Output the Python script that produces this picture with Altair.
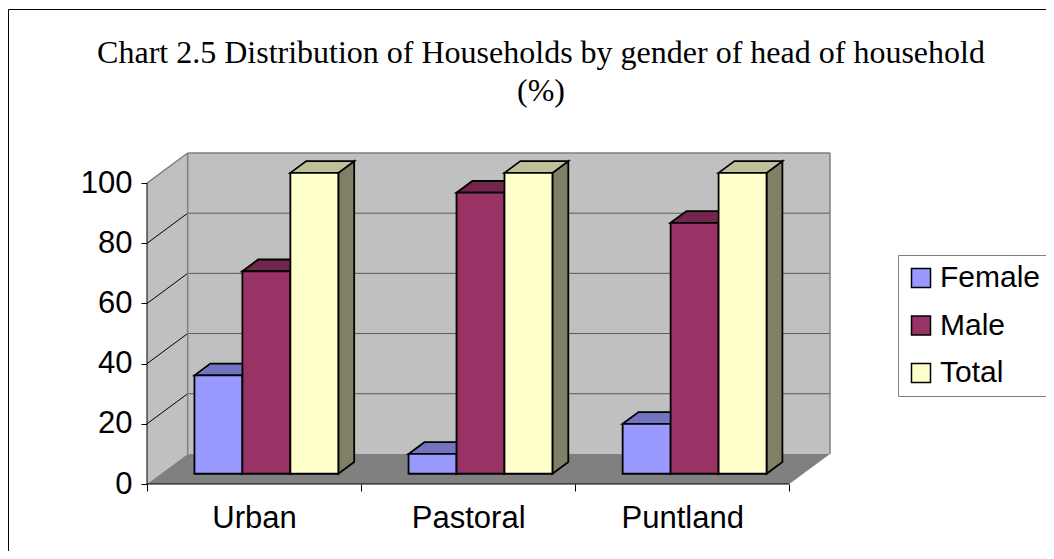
import json
import altair as alt
import pandas as pd

# ---------------- data ----------------
categories = ["Urban", "Pastoral", "Puntland"]
series_names = ["Female", "Male", "Total"]
female = [32.7, 6.6, 16.6]
male = [67.3, 93.4, 83.4]
total = [100, 100, 100]
y_ticks = [0, 20, 40, 60, 80, 100]
title_lines = ["Chart 2.5 Distribution of Households by gender of head of household", "(%)"]

# ---------------- styles ----------------
front_colors = ["#9999FF", "#993366", "#FFFFCC"]
top_colors = ["#7373BF", "#73264D", "#BFBF99"]
side_colors = ["#4D4D80", "#4D1A33", "#808066"]

# ---------------- layout (3-D look) ----------------
PLOT_W, PLOT_H = 683, 331
N = len(categories)
DX, DY = 0.19, 10.0            # depth of the floor, in data units
X_MAX = N + DX
Y_TOP = max(y_ticks)
Y_MAX = Y_TOP + DY
F_FRONT, F_DEPTH = 0.34, 0.39   # bar front position / bar depth as fraction of floor depth
PAD, BAR_W = 0.157, 0.224

values = {"Female": female, "Male": male, "Total": total}

front_rows, top_rows, side_rows = [], [], []
for i, cat in enumerate(categories):
    for j, s in enumerate(series_names):
        v = values[s][i]
        x0 = i + PAD + j * BAR_W + F_FRONT * DX
        x1 = x0 + BAR_W
        yb = F_FRONT * DY
        yt = yb + v
        ddx, ddy = F_DEPTH * DX, F_DEPTH * DY
        bid = f"{cat}-{s}"
        front_rows.append(dict(bar=bid, series=s, x=x0, x2=x1, y=yb, y2=yt))
        side_rows += [
            dict(bar=bid, series=s, x=x1, y=yt, y2=yb),
            dict(bar=bid, series=s, x=x1 + ddx, y=yt + ddy, y2=yb + ddy),
        ]
        top_rows += [
            dict(bar=bid, series=s, x=x0, y=yt, y2=yt),
            dict(bar=bid, series=s, x=x0 + ddx, y=yt + ddy, y2=yt),
            dict(bar=bid, series=s, x=x1, y=yt + ddy, y2=yt),
            dict(bar=bid, series=s, x=x1 + ddx, y=yt + ddy, y2=yt + ddy),
        ]

front_df = pd.DataFrame(front_rows)
side_df = pd.DataFrame(side_rows)
top_df = pd.DataFrame(top_rows)

back_wall_df = pd.DataFrame([dict(x=DX, x2=X_MAX, y=DY, y2=Y_MAX)])
left_wall_df = pd.DataFrame([dict(x=0, y=Y_TOP, y2=0), dict(x=DX, y=Y_MAX, y2=DY)])
floor_df = pd.DataFrame([
    dict(x=0, y=0, y2=0), dict(x=DX, y=DY, y2=0),
    dict(x=N, y=DY, y2=0), dict(x=X_MAX, y=DY, y2=DY),
])
back_grid_df = pd.DataFrame([dict(x=DX, x2=X_MAX, y=t + DY, y2=t + DY) for t in y_ticks[1:-1]])
left_grid_df = pd.DataFrame([dict(x=0, x2=DX, y=t, y2=t + DY) for t in y_ticks[1:-1]])
edge_df = pd.DataFrame([
    dict(x=0, x2=DX, y=Y_TOP, y2=Y_MAX),
    dict(x=DX, x2=X_MAX, y=Y_MAX, y2=Y_MAX),
    dict(x=X_MAX, x2=X_MAX, y=DY, y2=Y_MAX),
    dict(x=DX, x2=DX, y=DY, y2=Y_MAX),
])
axis_line_df = pd.DataFrame([
    dict(x=0, x2=0, y=0, y2=Y_TOP),
    dict(x=0, x2=N, y=0, y2=0),
])

xs = alt.Scale(domain=[0, X_MAX], nice=False, zero=False)
ys = alt.Scale(domain=[0, Y_MAX], nice=False, zero=False)
LABEL_FONT = "Liberation Sans"
LABEL_SIZE = 31

x_axis = alt.Axis(
    values=list(range(N + 1)),
    labelExpr=f"{json.dumps(categories + [''])}[datum.value]",
    labelOffset=PLOT_W / X_MAX * 0.5,
    domain=False, grid=False, tickSize=7, tickColor="black", tickWidth=1,
    labelFontSize=LABEL_SIZE, labelFont=LABEL_FONT, labelColor="black",
    labelPadding=12, labelFlush=False, labelOverlap=False, title=None,
)
y_axis = alt.Axis(
    values=y_ticks, domain=False, grid=False, tickSize=6, tickColor="black", tickWidth=1,
    labelFontSize=LABEL_SIZE, labelFont=LABEL_FONT, labelColor="black",
    labelPadding=9, labelFlush=False, labelOverlap=False, title=None,
)

def X(field="x"):
    return alt.X(f"{field}:Q", scale=xs, axis=x_axis)

def Y(field="y"):
    return alt.Y(f"{field}:Q", scale=ys, axis=y_axis)

border = alt.Chart(alt.Data(values=[{}])).mark_rect(
    fill="transparent", stroke="black", strokeWidth=1
).encode(
    x=alt.value(-138.5), x2=alt.value(1100), y=alt.value(-143.5), y2=alt.value(600)
)

title = alt.Chart(alt.Data(values=[{}])).mark_text(
    text=title_lines, font="Liberation Serif", fontSize=32, baseline="alphabetic",
    align="center", lineHeight=38, color="black",
).encode(x=alt.value(541 - 147), y=alt.value(63.3 - 153))

back_wall = alt.Chart(back_wall_df).mark_rect(color="#C0C0C0").encode(
    x=X(), x2="x2:Q", y=Y(), y2="y2:Q"
)
left_wall = alt.Chart(left_wall_df).mark_area(orient="vertical", color="#C0C0C0").encode(
    x=X(), y=Y(), y2="y2:Q"
)
floor = alt.Chart(floor_df).mark_area(orient="vertical", color="#808080").encode(
    x=X(), y=Y(), y2="y2:Q"
)
back_grid = alt.Chart(back_grid_df).mark_rule(color="#5A5A5A", strokeWidth=1).encode(
    x=X(), x2="x2:Q", y=Y(), y2="y2:Q"
)
left_grid = alt.Chart(left_grid_df).mark_rule(color="black", strokeWidth=1).encode(
    x=X(), x2="x2:Q", y=Y(), y2="y2:Q"
)
edges = alt.Chart(edge_df).mark_rule(color="#808080", strokeWidth=1.5).encode(
    x=X(), x2="x2:Q", y=Y(), y2="y2:Q"
)

sides = alt.Chart(side_df).mark_area(
    orient="vertical", stroke="black", strokeWidth=1.8, strokeJoin="miter", opacity=1
).encode(
    x=X(), y=Y(), y2="y2:Q", detail="bar:N",
    color=alt.Color("series:N", scale=alt.Scale(domain=series_names, range=side_colors), legend=None),
)
tops = alt.Chart(top_df).mark_area(
    orient="vertical", stroke="black", strokeWidth=1.8, strokeJoin="miter", opacity=1
).encode(
    x=X(), y=Y(), y2="y2:Q", detail="bar:N",
    color=alt.Color("series:N", scale=alt.Scale(domain=series_names, range=top_colors), legend=None),
)
fronts = alt.Chart(front_df).mark_rect(stroke="black", strokeWidth=1.8, opacity=1).encode(
    x=X(), x2="x2:Q", y=Y(), y2="y2:Q",
    color=alt.Color(
        "series:N",
        scale=alt.Scale(domain=series_names, range=front_colors),
        legend=alt.Legend(
            title=None, orient="none", legendX=751, legendY=102,
            padding=8, strokeColor="#808080", fillColor="white",
            symbolType="square", symbolSize=361, symbolStrokeColor="black",
            symbolStrokeWidth=1.5, symbolOpacity=1,
            labelFontSize=30, labelFont=LABEL_FONT, labelColor="black",
            labelOffset=4, rowPadding=17.5,
        ),
    ),
)
axis_lines = alt.Chart(axis_line_df).mark_rule(color="black", strokeWidth=1).encode(
    x=X(), x2="x2:Q", y=Y(), y2="y2:Q"
)

chart = alt.layer(
    back_wall, left_wall, floor, back_grid, left_grid, edges,
    sides, tops, fronts, axis_lines, title, border,
).resolve_scale(color="independent").properties(
    width=PLOT_W, height=PLOT_H,
    autosize=alt.AutoSizeParams(type="none"),
    padding={"left": 139, "top": 145, "right": 216, "bottom": 67},
    background="white",
).configure_view(stroke=None)

chart.save("out.html", embed_options={"renderer": "svg", "actions": False})
